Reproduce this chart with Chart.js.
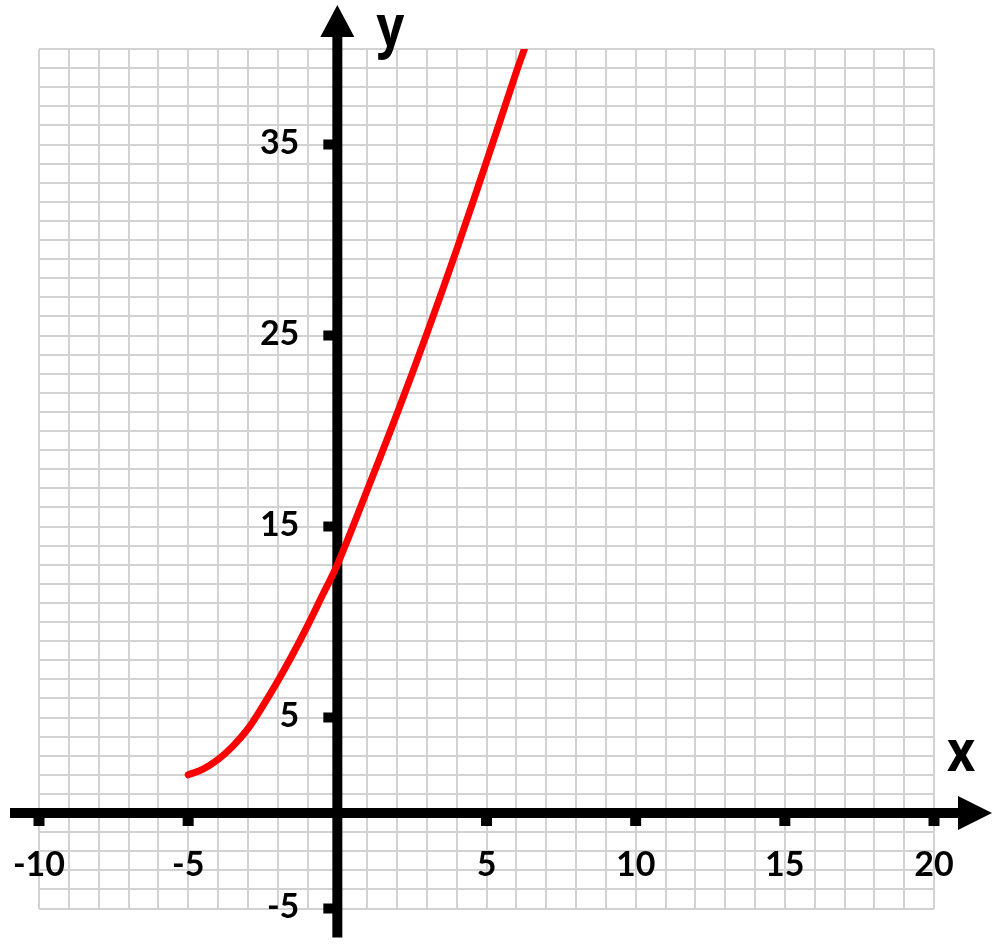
<!DOCTYPE html>
<html>
<head>
<meta charset="utf-8">
<script src="https://cdn.jsdelivr.net/npm/chart.js@4.4.1/dist/chart.umd.min.js"></script>
<style>
  html, body { margin: 0; padding: 0; background: #ffffff; }
  #wrap { width: 1000px; height: 948px; position: relative; }
</style>
</head>
<body>
<div id="wrap"><canvas id="c"></canvas></div>
<script>
// ---- data ----
const xValues = [-5, -4.5, -4, -3.5, -3, -2.5, -2, -1.5, -1, -0.5, 0, 1, 2, 3, 4, 5, 6, 6.27];
const yValues = [2.0, 2.3, 2.8, 3.5, 4.4, 5.6, 6.9, 8.3, 9.8, 11.4, 13.0, 16.9, 20.9, 25.1, 29.5, 34.1, 38.8, 40];
const xTickLabels = [-10, -5, 5, 10, 15, 20];
const yTickLabels = [-5, 5, 15, 25, 35];
const xRange = [-10, 20];
const yRange = [-5, 40];
const xAxisName = 'x';
const yAxisName = 'y';

const points = xValues.map((x, i) => ({ x: x, y: yValues[i] }));

const axesPlugin = {
  id: 'centerAxes',
  beforeDatasetsDraw(chart) {
    const ctx = chart.ctx;
    const xs = chart.scales.x, ys = chart.scales.y;
    const ca = chart.chartArea;
    const x0 = xs.getPixelForValue(0);
    const y0 = ys.getPixelForValue(0);
    ctx.save();
    ctx.fillStyle = '#000';
    ctx.strokeStyle = '#000';
    ctx.lineWidth = 10;
    ctx.lineCap = 'butt';
    // x axis line
    const xLeft = ca.left - 29, xArrowBase = ca.right + 24, xTip = ca.right + 58;
    ctx.beginPath(); ctx.moveTo(xLeft, y0); ctx.lineTo(xArrowBase + 2, y0); ctx.stroke();
    ctx.beginPath(); ctx.moveTo(xArrowBase, y0 - 17); ctx.lineTo(xTip, y0); ctx.lineTo(xArrowBase, y0 + 17); ctx.closePath(); ctx.fill();
    // y axis line
    const yBottom = ca.bottom + 29, yArrowBase = ca.top - 12, yTip = ca.top - 44;
    ctx.beginPath(); ctx.moveTo(x0, yBottom); ctx.lineTo(x0, yArrowBase - 2); ctx.stroke();
    ctx.beginPath(); ctx.moveTo(x0 - 17, yArrowBase); ctx.lineTo(x0, yTip); ctx.lineTo(x0 + 17, yArrowBase); ctx.closePath(); ctx.fill();

    // tick marks + labels
    ctx.font = 'bold 34px Lato';
    ctx.textAlign = 'center';
    ctx.textBaseline = 'middle';
    xTickLabels.forEach(v => {
      const px = xs.getPixelForValue(v);
      ctx.fillRect(px - 5.5, y0 + 4, 11, 9);
      ctx.fillText(String(v), px, y0 + 52);
    });
    ctx.textAlign = 'right';
    yTickLabels.forEach(v => {
      const py = ys.getPixelForValue(v);
      ctx.fillRect(x0 - 14, py - 5, 10, 10);
      ctx.fillText(String(v), x0 - 38, py - 1);
    });

    // axis names
    ctx.font = 'bold 58px "Open Sans"';
    ctx.textAlign = 'center';
    ctx.textBaseline = 'alphabetic';
    ctx.save();
    ctx.translate(ca.right + 27, y0 - 42);
    ctx.scale(0.84, 1);
    ctx.fillText(xAxisName, 0, 0);
    ctx.restore();
    ctx.save();
    ctx.translate(x0 + 53, ca.top - 3);
    ctx.scale(0.84, 1);
    ctx.fillText(yAxisName, 0, 0);
    ctx.restore();
    ctx.restore();
  }
};

new Chart(document.getElementById('c'), {
  type: 'scatter',
  data: {
    datasets: [{
      data: points,
      showLine: true,
      borderColor: '#ff0000',
      borderWidth: 7,
      pointRadius: 0,
      pointHoverRadius: 0,
      tension: 0.4,
      borderCapStyle: 'round',
      fill: false
    }]
  },
  options: {
    responsive: true,
    maintainAspectRatio: false,
    animation: false,
    events: [],
    layout: { padding: { left: 39, right: 66, top: 49, bottom: 39.5 } },
    plugins: { legend: { display: false }, tooltip: { enabled: false } },
    scales: {
      x: {
        type: 'linear', min: xRange[0], max: xRange[1],
        ticks: { display: false, stepSize: 1 },
        grid: { color: '#d2d2d2', lineWidth: 2, drawTicks: false },
        border: { display: false }
      },
      y: {
        type: 'linear', min: yRange[0], max: yRange[1],
        ticks: { display: false, stepSize: 1 },
        grid: { color: '#d2d2d2', lineWidth: 2, drawTicks: false },
        border: { display: false }
      }
    }
  },
  plugins: [axesPlugin]
});
</script>
</body>
</html>
